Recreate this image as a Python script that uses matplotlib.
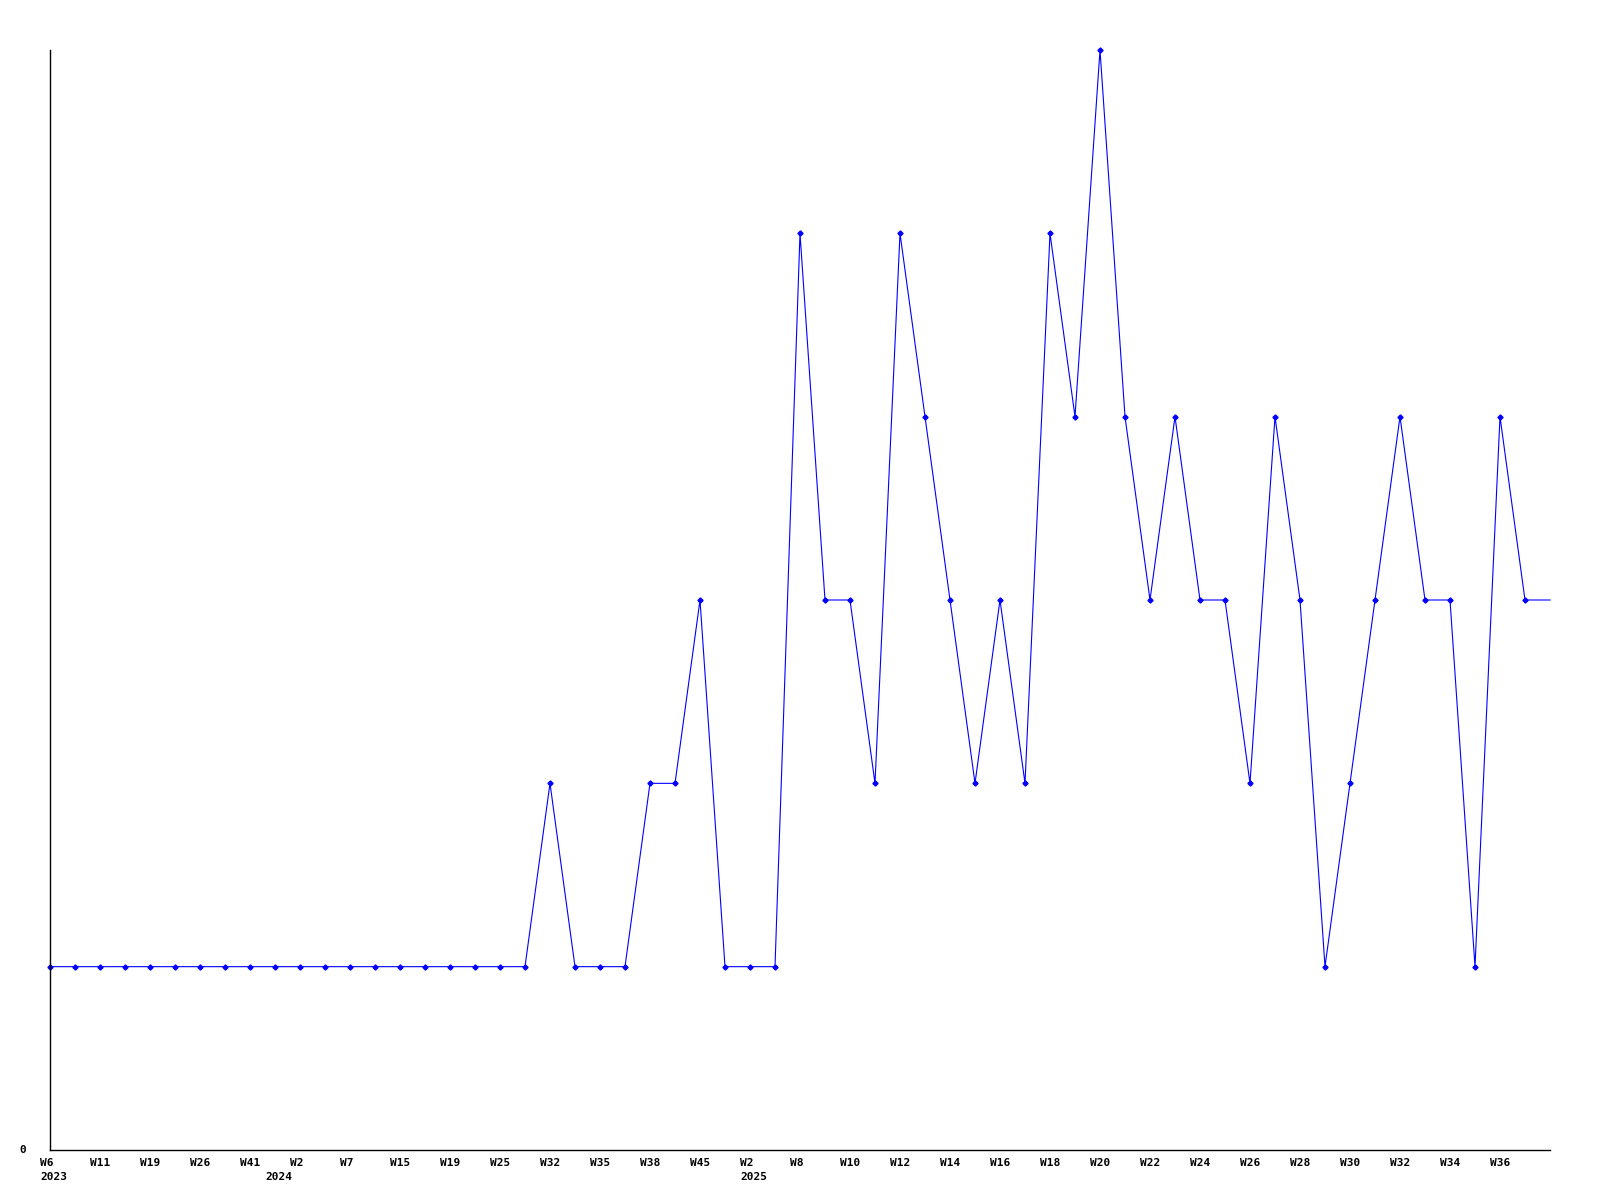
import matplotlib
matplotlib.use('Agg')
import matplotlib.pyplot as plt

# weekly counts, one point per category on the x axis
values = [1, 1, 1, 1, 1, 1, 1, 1, 1, 1,
          1, 1, 1, 1, 1, 1, 1, 1, 1, 1,
          2, 1, 1, 1, 2, 2, 3, 1, 1, 1,
          5, 3, 3, 2, 5, 4, 3, 2, 3, 2,
          5, 4, 6, 4, 3, 4, 3, 3, 2, 4,
          3, 1, 2, 3, 4, 3, 3, 1, 4, 3,
          3]

week_labels = ['W6', 'W11', 'W19', 'W26', 'W41', 'W2', 'W7', 'W15', 'W19', 'W25',
               'W32', 'W35', 'W38', 'W45', 'W2', 'W8', 'W10', 'W12', 'W14', 'W16',
               'W18', 'W20', 'W22', 'W24', 'W26', 'W28', 'W30', 'W32', 'W34', 'W36']
year_labels = ['2023', '2024', '2025']
year_pos = [0, 9, 28]

font = dict(family='DejaVu Sans Mono', fontweight='bold', fontsize=8)

fig = plt.figure(figsize=(16, 12), dpi=100)
ax = fig.add_axes([0.03125, 0.041667, 0.9375, 0.916667])

x = list(range(len(values)))
ax.plot(x, values, color='#0000ff', linewidth=0.8, marker='D', markersize=2.6,
        markevery=list(range(len(values) - 1)), clip_on=False)

ax.set_xlim(0, len(values) - 1)
ax.set_ylim(0, 6)

for s in ['top', 'right']:
    ax.spines[s].set_visible(False)
for s in ['left', 'bottom']:
    ax.spines[s].set_linewidth(1.0)
ax.set_xticks([])
ax.set_yticks([])

for k, lab in enumerate(week_labels):
    ax.annotate(lab, xy=(2 * k, 0), xycoords=('data', 'axes fraction'),
                xytext=(-10, -13), textcoords='offset pixels',
                ha='left', va='center', **font)

for pos, lab in zip(year_pos, year_labels):
    ax.annotate(lab, xy=(pos, 0), xycoords=('data', 'axes fraction'),
                xytext=(-10, -27), textcoords='offset pixels',
                ha='left', va='center', **font)

ax.annotate('0', xy=(0, 0), xycoords='axes fraction',
            xytext=(-24, 0), textcoords='offset pixels',
            ha='right', va='center', **font)

fig.savefig('out.png', dpi=100)
